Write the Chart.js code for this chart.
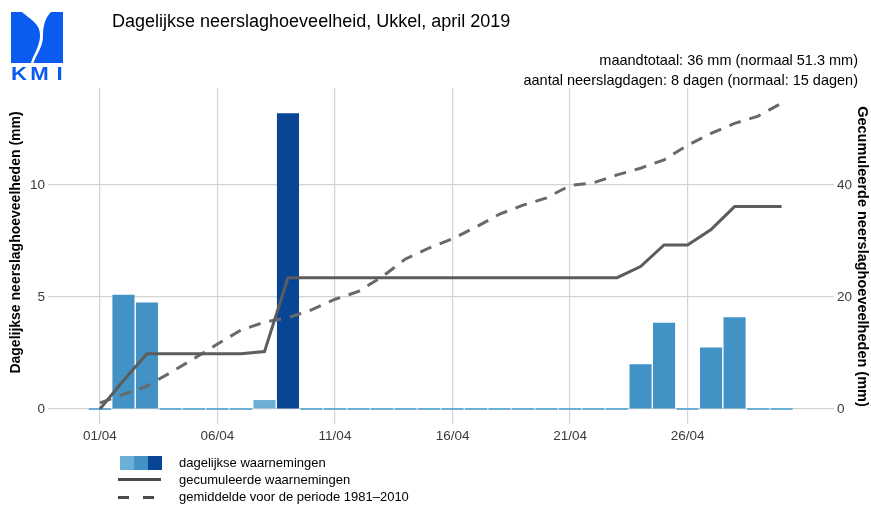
<!DOCTYPE html>
<html>
<head>
<meta charset="utf-8">
<script src="https://cdn.jsdelivr.net/npm/chart.js@4.4.1/dist/chart.umd.min.js"></script>
<style>
  html, body { margin: 0; padding: 0; background: #fff; }
  #wrap { width: 871px; height: 505px; }
</style>
</head>
<body>
<div id="wrap"><canvas id="rainChart" width="871" height="505"></canvas></div>
<script>
// dagen van april 2019
const days = [1, 2, 3, 4, 5, 6, 7, 8, 9, 10, 11, 12, 13, 14, 15, 16, 17, 18, 19, 20, 21, 22, 23, 24, 25, 26, 27, 28, 29, 30];

// dagelijkse neerslag (mm)
const dailyRain = [0, 5.1, 4.75, 0, 0, 0, 0, 0.4, 13.2, 0, 0, 0, 0, 0, 0, 0, 0, 0, 0, 0, 0, 0, 0, 2.0, 3.85, 0, 2.75, 4.1, 0, 0];

const cumulRain = [0, 5.1, 9.85, 9.85, 9.85, 9.85, 9.85, 10.25, 23.45, 23.45, 23.45, 23.45, 23.45, 23.45, 23.45, 23.45, 23.45, 23.45, 23.45, 23.45, 23.45, 23.45, 23.45, 25.45, 29.3, 29.3, 32.05, 36.15, 36.15, 36.15];

const normalCumul = [1.1, 2.6, 4.1, 6.5, 9.0, 11.6, 14.1, 15.5, 16.3, 17.7, 19.6, 21.0, 23.6, 26.8, 28.75, 30.4, 32.5, 34.8, 36.4, 37.7, 39.9, 40.4, 41.8, 43.0, 44.5, 47.1, 49.2, 51.0, 52.3, 54.6];

const xTickDays = [1, 6, 11, 16, 21, 26];
const leftTicks = [0, 5, 10];
const rightTicks = [0, 20, 40];

const FONT = '"Liberation Sans", Arial, Helvetica, sans-serif';
const LIGHT = '#6baed6', MID = '#4292c6', DARK = '#084594';
const GRID = '#d4d4d4';

function barColor(v) {
  if (v >= 10) return DARK;
  if (v >= 1) return MID;
  return LIGHT;
}

function toPoints(values) {
  return days.map((d, i) => ({ x: d, y: values[i] }));
}

// logo, titels en legende
const decorations = {
  id: 'decorations',
  afterDraw(chart) {
    const ctx = chart.ctx;
    ctx.save();

    // KMI logo
    ctx.fillStyle = '#0a5cf0';
    ctx.fillRect(11, 12, 52, 51);
    ctx.fillStyle = '#fff';
    ctx.beginPath();
    ctx.moveTo(22, 12);
    ctx.bezierCurveTo(31, 20, 41, 24, 40, 37);
    ctx.bezierCurveTo(39, 48, 33, 55, 31, 63);
    ctx.lineTo(33.5, 63);
    ctx.bezierCurveTo(36, 55, 43, 47, 43, 36);
    ctx.bezierCurveTo(43, 24, 46, 17, 51, 12);
    ctx.closePath();
    ctx.fill();
    ctx.fillStyle = '#0a5cf0';
    ctx.textBaseline = 'alphabetic';
    ctx.textAlign = 'left';
    ctx.save();
    ctx.translate(11, 80);
    ctx.scale(1.2, 1);
    ctx.font = 'bold 18.5px ' + FONT;
    ctx.fillText('K', 0, 0);
    ctx.fillText('M', 16, 0);
    ctx.fillText('I', 38, 0);
    ctx.restore();

    // hoofdtitel
    ctx.fillStyle = '#000';
    ctx.font = '18px ' + FONT;
    ctx.fillText('Dagelijkse neerslaghoeveelheid, Ukkel, april 2019', 112, 27);

    // ondertitel
    ctx.font = '14.5px ' + FONT;
    ctx.textAlign = 'right';
    ctx.fillText('maandtotaal: 36 mm (normaal 51.3 mm)', 858, 65);
    ctx.fillText('aantal neerslagdagen: 8 dagen (normaal: 15 dagen)', 858, 85);

    // astitels
    ctx.textAlign = 'center';
    ctx.textBaseline = 'middle';
    ctx.font = 'bold 14px ' + FONT;
    ctx.save();
    ctx.translate(16.5, 242.5);
    ctx.rotate(-Math.PI / 2);
    ctx.fillText('Dagelijkse neerslaghoeveelheden (mm)', 0, 0);
    ctx.restore();
    ctx.font = 'bold 14.5px ' + FONT;
    ctx.save();
    ctx.translate(862, 256.5);
    ctx.rotate(Math.PI / 2);
    ctx.fillText('Gecumuleerde neerslaghoeveelheden (mm)', 0, 0);
    ctx.restore();

    // legende
    ctx.fillStyle = LIGHT; ctx.fillRect(120, 456, 14, 14);
    ctx.fillStyle = MID; ctx.fillRect(134, 456, 14, 14);
    ctx.fillStyle = DARK; ctx.fillRect(148, 456, 14, 14);

    ctx.lineWidth = 3;
    ctx.strokeStyle = '#4a4a4a';
    ctx.beginPath(); ctx.moveTo(118, 479.5); ctx.lineTo(161, 479.5); ctx.stroke();
    ctx.setLineDash([11, 14]);
    ctx.beginPath(); ctx.moveTo(118, 497.5); ctx.lineTo(161, 497.5); ctx.stroke();
    ctx.setLineDash([]);

    ctx.fillStyle = '#000';
    ctx.font = '13px ' + FONT;
    ctx.textAlign = 'left';
    ctx.textBaseline = 'middle';
    ctx.fillText('dagelijkse waarnemingen', 179, 463);
    ctx.fillText('gecumuleerde waarnemingen', 179, 480);
    ctx.fillText('gemiddelde voor de periode 1981\u20132010', 179, 497);

    ctx.restore();
  }
};

const ctx = document.getElementById('rainChart').getContext('2d');
new Chart(ctx, {
  type: 'bar',
  data: {
    datasets: [
      {
        type: 'line',
        label: 'gecumuleerde waarnemingen',
        data: toPoints(cumulRain),
        yAxisID: 'y2',
        borderColor: '#5c5c5c',
        borderWidth: 3,
        pointRadius: 0,
        tension: 0,
        order: 1
      },
      {
        type: 'line',
        label: 'gemiddelde voor de periode 1981-2010',
        data: toPoints(normalCumul),
        yAxisID: 'y2',
        borderColor: '#696969',
        borderWidth: 3,
        borderDash: [12, 9],
        pointRadius: 0,
        tension: 0,
        order: 2
      },
      {
        type: 'bar',
        label: 'dagelijkse waarnemingen',
        data: toPoints(dailyRain),
        yAxisID: 'y',
        backgroundColor: dailyRain.map(barColor),
        borderWidth: 0,
        minBarLength: 2,
        categoryPercentage: 1,
        barPercentage: 0.94,
        order: 3
      }
    ]
  },
  options: {
    responsive: false,
    animation: false,
    devicePixelRatio: 1,
    layout: { padding: { top: 88, bottom: 55, left: 0, right: 0 } },
    plugins: {
      legend: { display: false },
      tooltip: { enabled: false },
      title: { display: false }
    },
    scales: {
      x: {
        type: 'linear',
        position: 'bottom',
        min: -1.04,
        max: 32.06,
        offset: false,
        afterBuildTicks: (scale) => { scale.ticks = xTickDays.map(v => ({ value: v })); },
        afterFit: (scale) => { scale.height = 30; },
        grid: { color: GRID, lineWidth: 1.2, tickLength: 4, offset: false },
        border: { display: false },
        ticks: {
          color: '#3a3a3a',
          font: { family: FONT, size: 13.5 },
          padding: 4,
          maxRotation: 0,
          callback: (v) => String(v).padStart(2, '0') + '/04'
        }
      },
      y: {
        position: 'left',
        min: -0.49,
        max: 14.33,
        afterBuildTicks: (scale) => { scale.ticks = leftTicks.map(v => ({ value: v })); },
        afterFit: (scale) => { scale.width = 52; },
        grid: { color: GRID, lineWidth: 1.2, tickLength: 4 },
        border: { display: false },
        ticks: {
          color: '#3a3a3a',
          font: { family: FONT, size: 13.5 },
          padding: 3
        }
      },
      y2: {
        position: 'right',
        min: -1.96,
        max: 57.32,
        afterBuildTicks: (scale) => { scale.ticks = rightTicks.map(v => ({ value: v })); },
        afterFit: (scale) => { scale.width = 41; },
        grid: { color: GRID, lineWidth: 1.2, tickLength: 4, drawOnChartArea: false },
        border: { display: false },
        ticks: {
          color: '#3a3a3a',
          font: { family: FONT, size: 13.5 },
          padding: 3
        }
      }
    }
  },
  plugins: [decorations]
});
</script>
</body>
</html>
